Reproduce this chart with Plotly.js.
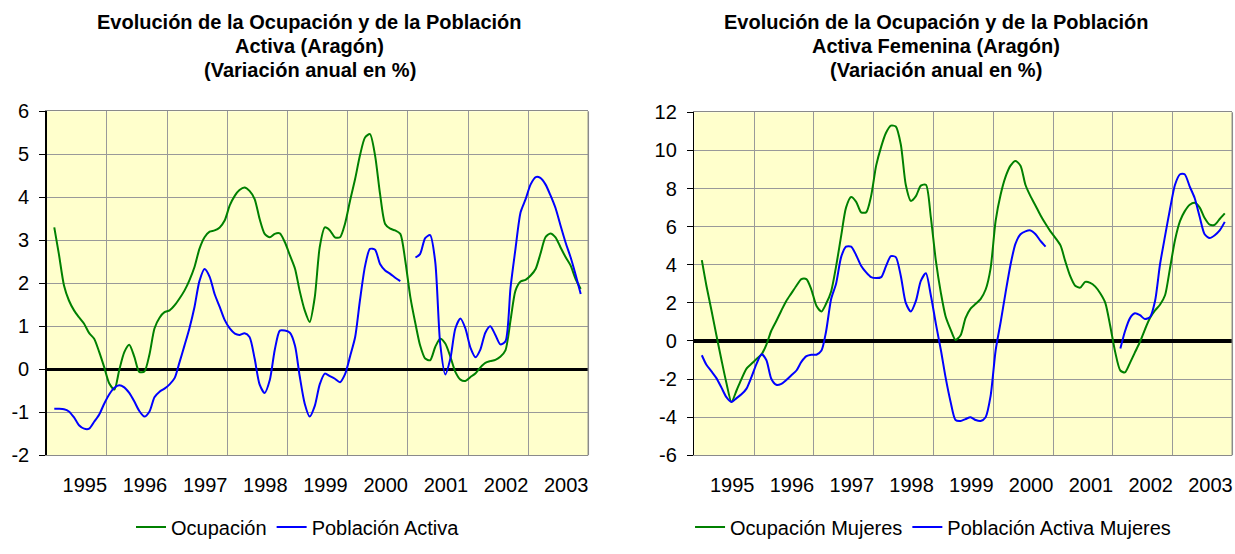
<!DOCTYPE html>
<html>
<head>
<meta charset="utf-8">
<script src="https://cdn.plot.ly/plotly-3.0.1.min.js"></script>
<style>html,body{margin:0;padding:0;background:#fff;}#chart{width:1235px;height:554px;}</style>
</head>
<body>
<div id="chart"></div>
<script>
// Monthly series, first value = February 1995, last value = November 2003
const startYear = 1995;
const startMonth = 2;
const yearLabels = ['1995','1996','1997','1998','1999','2000','2001','2002','2003'];

const yTicksLeft = [-2, -1, 0, 1, 2, 3, 4, 5, 6];
const yTickTextLeft = ['-2', '-1', '0', '1', '2', '3', '4', '5', '6'];
const yTicksRight = [-6, -4, -2, 0, 2, 4, 6, 8, 10, 12];
const yTickTextRight = ['-6', '-4', '-2', '0', '2', '4', '6', '8', '10', '12'];

const titleLeft = ['Evolución de la Ocupación y de la Población', 'Activa (Aragón)', '(Variación anual en %)'];
const titleRight = ['Evolución de la Ocupación y de la Población', 'Activa Femenina (Aragón)', '(Variación anual en %)'];

const nameOcupacion = 'Ocupación';
const namePoblacion = 'Población Activa';
const nameOcupacionM = 'Ocupación Mujeres';
const namePoblacionM = 'Población Activa Mujeres';

const ocupacion = [
 3.30, 2.68, 1.95, 1.60, 1.37, 1.21, 1.06, 0.84, 0.71, 0.40,
 0.05, -0.33, -0.47, -0.02, 0.40, 0.57, 0.29, -0.06, -0.05, 0.35,
 0.95, 1.20, 1.33, 1.37, 1.49, 1.64, 1.83, 2.07, 2.38, 2.80,
 3.07, 3.20, 3.23, 3.30, 3.46, 3.81, 4.04, 4.17, 4.23, 4.15,
 3.96, 3.50, 3.15, 3.07, 3.15, 3.16, 2.96, 2.65, 2.34, 1.83,
 1.37, 1.10, 1.68, 2.84, 3.30, 3.23, 3.07, 3.07, 3.38, 3.92,
 4.43, 4.97, 5.39, 5.47, 4.97, 4.08, 3.38, 3.27, 3.23, 3.15,
 2.53, 1.68, 1.06, 0.56, 0.25, 0.21, 0.52, 0.71, 0.60, 0.29,
 -0.06, -0.24, -0.27, -0.18, -0.09, 0.04, 0.15, 0.19, 0.22, 0.29,
 0.44, 1.14, 1.83, 2.04, 2.08, 2.18, 2.34, 2.68, 3.07, 3.16,
 3.07, 2.84, 2.61, 2.41, 2.10, 1.87
];

const poblacionActiva = [
 -0.92, -0.92, -0.93, -0.98, -1.12, -1.30, -1.38, -1.38, -1.22, -1.05,
 -0.80, -0.58, -0.43, -0.37, -0.42, -0.55, -0.75, -0.97, -1.10, -0.98,
 -0.65, -0.52, -0.45, -0.35, -0.20, 0.15, 0.55, 0.95, 1.45, 2.05,
 2.33, 2.15, 1.75, 1.45, 1.15, 0.95, 0.83, 0.80, 0.84, 0.75,
 0.25, -0.35, -0.55, -0.25, 0.45, 0.90, 0.90, 0.85, 0.55, -0.15,
 -0.80, -1.10, -0.85, -0.35, -0.10, -0.16, -0.22, -0.30, -0.12, 0.30,
 0.75, 1.60, 2.40, 2.80, 2.78, 2.45, 2.30, 2.22, 2.13, 2.05,
 null, null, 2.60, 2.68, 3.05, 3.12, 2.50, 0.60, -0.12, 0.25,
 0.95, 1.18, 0.95, 0.50, 0.28, 0.45, 0.85, 1.00, 0.80, 0.58,
 0.65, 1.90, 2.80, 3.65, 3.95, 4.30, 4.47, 4.45, 4.30, 4.05,
 3.75, 3.35, 2.95, 2.60, 2.20, 1.75
];

const ocupacionMujeres = [
 4.24, 2.90, 1.60, 0.30, -1.00, -2.20, -3.20, -2.60, -2.00, -1.45,
 -1.20, -0.95, -0.70, -0.20, 0.55, 1.05, 1.60, 2.10, 2.50, 2.90,
 3.25, 3.25, 2.70, 1.85, 1.55, 1.95, 2.60, 3.90, 5.50, 7.00,
 7.55, 7.30, 6.75, 6.75, 7.60, 9.20, 10.20, 10.90, 11.30, 11.25,
 10.30, 8.20, 7.35, 7.60, 8.15, 8.20, 6.50, 4.20, 2.50, 1.30,
 0.60, 0.05, 0.30, 1.20, 1.70, 1.95, 2.20, 2.70, 3.80, 6.30,
 7.70, 8.60, 9.20, 9.45, 9.20, 8.20, 7.60, 7.10, 6.60, 6.15,
 5.75, 5.40, 5.00, 4.20, 3.40, 2.90, 2.80, 3.10, 3.05, 2.85,
 2.50, 2.00, 0.80, -0.60, -1.55, -1.65, -1.15, -0.60, -0.05, 0.60,
 1.20, 1.60, 1.90, 2.40, 3.80, 5.30, 6.30, 6.80, 7.15, 7.25,
 7.00, 6.45, 6.10, 6.10, 6.40, 6.70
];

const poblacionActivaMujeres = [
 -0.75, -1.25, -1.60, -1.95, -2.45, -2.95, -3.20, -3.00, -2.80, -2.50,
 -1.90, -1.20, -0.70, -1.00, -2.00, -2.30, -2.25, -2.05, -1.80, -1.55,
 -1.10, -0.80, -0.72, -0.72, -0.50, 0.50, 2.20, 3.00, 4.40, 4.95,
 4.95, 4.50, 3.95, 3.60, 3.35, 3.30, 3.35, 3.90, 4.45, 4.40,
 3.40, 2.00, 1.55, 2.10, 3.15, 3.55, 2.40, 0.90, -0.50, -1.90,
 -3.20, -4.15, -4.20, -4.10, -4.00, -4.15, -4.20, -4.00, -2.90, -0.50,
 1.00, 2.50, 4.00, 5.10, 5.60, 5.75, 5.80, 5.60, 5.25, 4.95,
 null, null, null, null, null, null, null, null, null, null,
 null, null, null, null, -0.40, 0.50, 1.20, 1.45, 1.35, 1.15,
 1.25, 2.10, 4.00, 5.50, 6.90, 8.20, 8.75, 8.75, 8.10, 7.50,
 6.50, 5.60, 5.40, 5.55, 5.80, 6.25
];

// month dates (mid-month) for the category axis
const months = ocupacion.map((_, i) => {
  const t = (startMonth - 1) + i;
  const y = startYear + Math.floor(t / 12);
  const m = (t % 12) + 1;
  return y + '-' + String(m).padStart(2, '0') + '-16';
});

const FONT = 'Liberation Sans, Arial, Helvetica, sans-serif';
const GREEN = '#008000';
const BLUE = '#0000FF';

function line(name, y, color, xa, ya, legend) {
  return {
    type: 'scatter', mode: 'lines', name: name, x: months, y: y,
    xaxis: xa, yaxis: ya, legend: legend, connectgaps: false,
    line: {color: color, width: 2, shape: 'spline', smoothing: 0.7},
    hoverinfo: 'skip'
  };
}

const traces = [
  line(nameOcupacion, ocupacion, GREEN, 'x', 'y', 'legend'),
  line(namePoblacion, poblacionActiva, BLUE, 'x', 'y', 'legend'),
  line(nameOcupacionM, ocupacionMujeres, GREEN, 'x2', 'y2', 'legend2'),
  line(namePoblacionM, poblacionActivaMujeres, BLUE, 'x2', 'y2', 'legend2')
];

function xAxis(domain, anchor) {
  return {
    domain: domain, anchor: anchor, type: 'date',
    range: ['1995-01-01', '2004-01-01'], tick0: '1995-01-01', dtick: 'M12',
    tickformat: '%Y', ticklabelmode: 'period', ticklabelshift: 8, ticklabelstandoff: 12,
    showgrid: true, gridcolor: '#999999', gridwidth: 1,
    showline: true, linecolor: '#8a8a8a', linewidth: 1, mirror: true,
    ticks: '', tickfont: {family: FONT, size: 20, color: '#000'}, fixedrange: true
  };
}
function yAxis(domain, anchor, range, vals, text) {
  return {
    domain: domain, anchor: anchor, range: range,
    tickmode: 'array', tickvals: vals, ticktext: text,
    showgrid: true, gridcolor: '#999999', gridwidth: 1,
    zeroline: true, zerolinecolor: '#000', zerolinewidth: 3.5,
    showline: true, linecolor: '#000', linewidth: 1.5, mirror: false,
    ticks: 'outside', ticklen: 6, tickcolor: '#000', tickwidth: 1,
    ticklabelstandoff: 6,
    tickfont: {family: FONT, size: 20, color: '#000'}, fixedrange: true
  };
}

const annotations = [];
const lineY = [0.9603, 0.917, 0.8736];
titleLeft.forEach((t, i) => annotations.push({
  text: '<b>' + t + '</b>', xref: 'paper', yref: 'paper', x: 0.251, y: lineY[i],
  xanchor: 'center', yanchor: 'middle', showarrow: false,
  font: {family: FONT, size: 20, color: '#000'}
}));
titleRight.forEach((t, i) => annotations.push({
  text: '<b>' + t + '</b>', xref: 'paper', yref: 'paper', x: 0.758, y: lineY[i],
  xanchor: 'center', yanchor: 'middle', showarrow: false,
  font: {family: FONT, size: 20, color: '#000'}
}));

const layout = {
  width: 1235, height: 554, margin: {l: 0, r: 0, t: 0, b: 0},
  paper_bgcolor: '#ffffff', plot_bgcolor: '#FFFFCC',
  font: {family: FONT, color: '#000'},
  showlegend: true,
  xaxis: xAxis([0.03781, 0.47636], 'y'),
  yaxis: yAxis([0.17816, 0.7991], 'x', [-2, 6], yTicksLeft, yTickTextLeft),
  xaxis2: xAxis([0.56219, 0.99781], 'y2'),
  yaxis2: yAxis([0.17816, 0.7973], 'x2', [-6, 12], yTicksRight, yTickTextRight),
  legend: {orientation: 'h', x: 0.2413, xanchor: 'center', y: 0.0487, yanchor: 'middle',
           font: {family: FONT, size: 20, color: '#000'}, bgcolor: 'rgba(0,0,0,0)', itemclick: false},
  legend2: {orientation: 'h', x: 0.7555, xanchor: 'center', y: 0.0487, yanchor: 'middle',
           font: {family: FONT, size: 20, color: '#000'}, bgcolor: 'rgba(0,0,0,0)', itemclick: false},
  annotations: annotations,
  shapes: [
    {type: 'line', xref: 'x domain', yref: 'y domain', x0: 1, x1: 1, y0: 0, y1: 1, line: {color: '#8a8a8a', width: 1.5}},
    {type: 'line', xref: 'x2 domain', yref: 'y2 domain', x0: 1, x1: 1, y0: 0, y1: 1, line: {color: '#8a8a8a', width: 1.5}}
  ]
};

Plotly.newPlot('chart', traces, layout, {displayModeBar: false, staticPlot: true});
</script>
</body>
</html>
